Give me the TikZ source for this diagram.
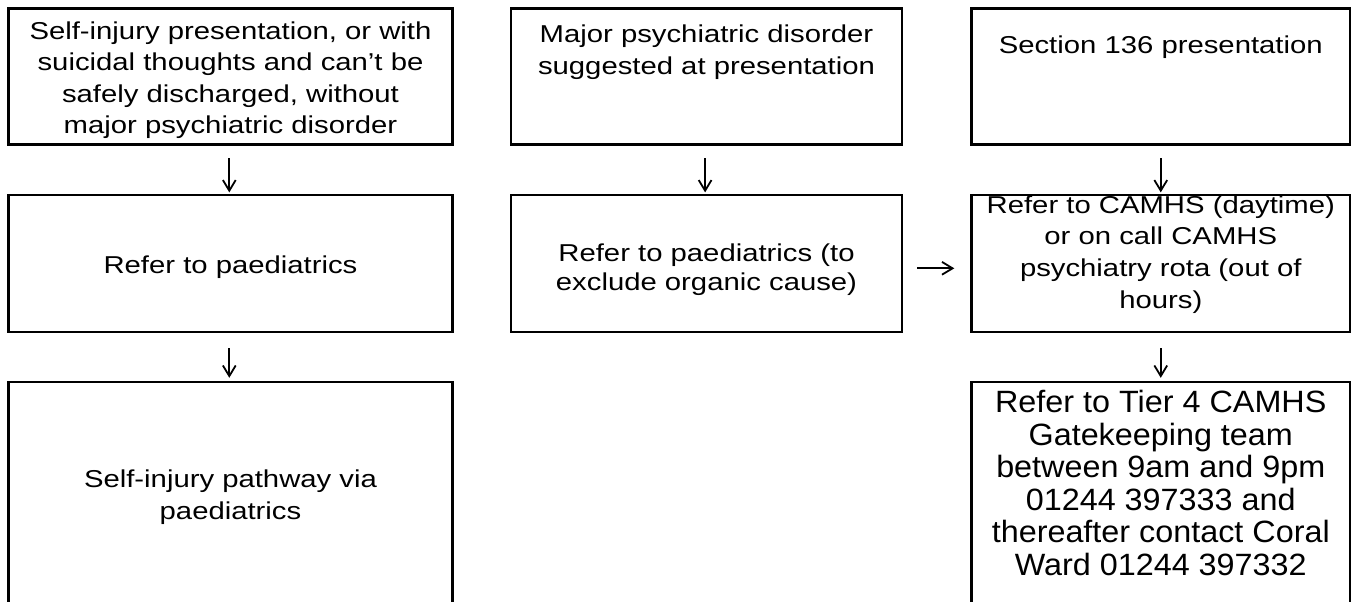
\documentclass[tikz,border=0pt]{standalone}
\usepackage{fontspec}
\setmainfont{Liberation Sans}
\newfontfamily\mf[FakeStretch=1.2]{Liberation Sans}
\newfontfamily\mfb[FakeStretch=1.05]{Liberation Sans}
\usetikzlibrary{arrows.meta}
\tikzset{
  box/.style={draw, line width=1.4pt, inner sep=0pt, minimum height=#1},
  box/.default=68pt,
  txt/.style={font=\mf\fontsize{12.2pt}{#1}\selectfont, align=center, anchor=base, inner sep=0pt},
  txtbig/.style={font=\mfb\fontsize{15.4pt}{#1}\selectfont, align=center, anchor=base, inner sep=0pt},
  arr/.style={line width=0.9pt, -{Straight Barb[length=5.3pt,width=6.4pt]}}
}
\begin{document}
\begin{tikzpicture}[x=0.5pt,y=-0.5pt]
\useasboundingbox (0,0) rectangle (1352,601);
\clip (0,0) rectangle (1352,601);
% row 1
\node[box, minimum width=222pt] (b1) at (230.5,76.5) {};
\node[box, minimum width=195.5pt] (b2) at (706.5,76.5) {};
\node[box, minimum width=189.25pt] (b3) at (1160.75,76.5) {};
% row 2
\node[box=68.5pt, minimum width=222pt] (b4) at (230.5,263.5) {};
\node[box=68.5pt, minimum width=195.5pt] (b5) at (706.5,263.5) {};
\node[box=68.5pt, minimum width=189.25pt] (b6) at (1160.75,263.5) {};
% row 3
\node[box=130pt, minimum width=222pt] (b7) at (230.5,512) {};
\node[box=130pt, minimum width=189.25pt] (b8) at (1160.75,512) {};
% texts (anchored at the baseline of their last line)
\node[txt=15.65pt] (t1) at (230.5,133.3) {Self-injury presentation, or with\\suicidal thoughts and can’t be\\safely discharged, without\\major psychiatric disorder};
\node[txt=15.75pt] (t2) at (706.5,74) {Major psychiatric disorder\\suggested at presentation};
\node[txt=15.75pt] (t3) at (1160.75,53.3) {Section 136 presentation};
\node[txt=15.75pt] (t4) at (230.5,273.3) {Refer to paediatrics};
\node[txt=14.5pt] (t5) at (706.5,290) {Refer to paediatrics (to\\exclude organic cause)};
\node[txt=15.85pt] (t6) at (1160.75,308.3) {Refer to CAMHS (daytime)\\or on call CAMHS\\psychiatry rota (out of\\hours)};
\node[txt=16.15pt] (t7) at (230.5,519.3) {Self-injury pathway via\\paediatrics};
\node[txtbig=16.25pt] (t8) at (1160.75,575) {Refer to Tier 4 CAMHS\\Gatekeeping team\\between 9am and 9pm\\01244 397333 and\\thereafter contact Coral\\Ward 01244 397332};
% connectors
\draw[arr, shorten <=6.2pt, shorten >=0.6pt] ([xshift=-0.6pt]b1.south) -- ([xshift=-0.6pt]b4.north);
\draw[arr, shorten <=6.2pt, shorten >=0.6pt] ([xshift=-0.7pt]b2.south) -- ([xshift=-0.7pt]b5.north);
\draw[arr, shorten <=6.2pt, shorten >=0.6pt] (b3.south) -- (b6.north);
\draw[arr, shorten <=7.4pt, shorten >=1.4pt] ([xshift=-0.6pt]b4.south) -- ([xshift=-0.6pt]b7.north);
\draw[arr, shorten <=7.4pt, shorten >=1.4pt] (b6.south) -- (b8.north);
\draw[arr, shorten <=6.85pt, shorten >=7.9pt] ([yshift=-2.4pt]b5.east) -- ([yshift=-2.4pt]b6.west);
\end{tikzpicture}
\end{document}
